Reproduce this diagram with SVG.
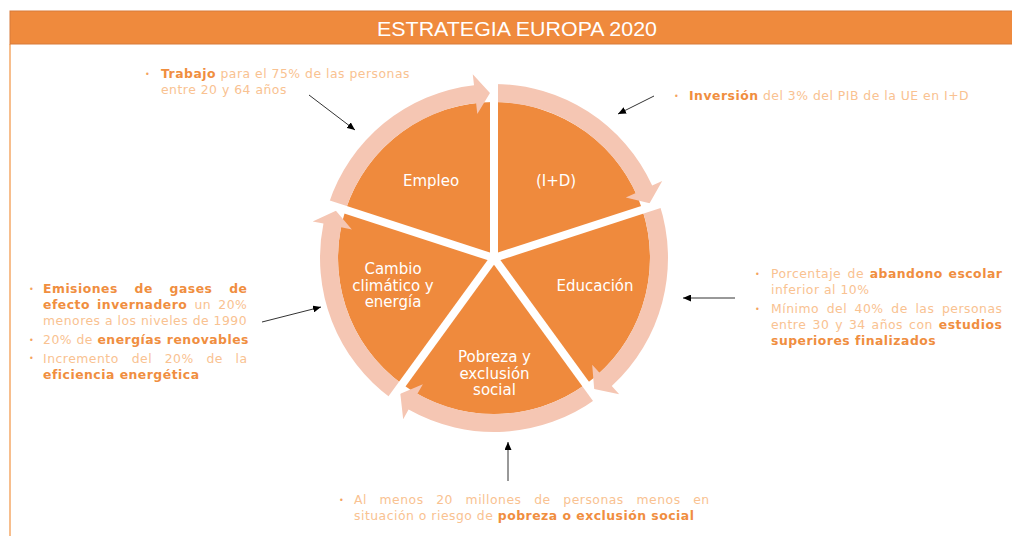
<svg xmlns="http://www.w3.org/2000/svg" xmlns:xlink="http://www.w3.org/1999/xlink" width="1012" height="536" viewBox="0 0 1012 536">
<style>
.wedge{fill:#EF8A3D}
.ring{fill:#F5C6B3}
.lbl{font-family:"DejaVu Sans","Verdana",sans-serif;font-size:15px;fill:#FFFFFF;text-anchor:middle}
.t{font-family:"DejaVu Sans","Verdana",sans-serif;font-size:12.4px;letter-spacing:0.5px;fill:#F9C291}
.b{font-weight:bold;fill:#F08E3F}
.bul{font-size:8px;fill:#F4A460}
.sep{stroke:#FFFFFF;stroke-width:8;fill:none}
.con{stroke:#333333;stroke-width:1;fill:none;marker-end:url(#ah)}
</style>
<defs>
<marker id="ah" markerUnits="userSpaceOnUse" markerWidth="9" markerHeight="7" refX="8" refY="3.5" orient="auto">
<path d="M0,0 L8,3.5 L0,7 Z" fill="#000000"/>
</marker>
<path id="wd" d="M494,258 L494,102 A156,156 0 0 1 642.4,209.8 Z"/>
<path id="ra" d="M494,84 A174,174 0 0 1 652.2,185.6 L662.2,181 L649.6,203.2 L625.8,197.6 L635.8,193.1 A156,156 0 0 0 494,102 Z"/>
</defs>
<rect width="1012" height="536" fill="#FFFFFF"/>
<g id="title">
<line x1="10" y1="44" x2="10" y2="536" stroke="#F5A867" stroke-width="1.5"/>
<rect x="10" y="11" width="1003" height="33" fill="#EF8A3D" stroke="#D77A3A" stroke-width="1"/>
<text x="517" y="35.5" text-anchor="middle" font-family="'Liberation Sans',Arial,sans-serif" font-size="20" fill="#FFFFFF" textLength="280" lengthAdjust="spacingAndGlyphs">ESTRATEGIA EUROPA 2020</text>
</g>
<g id="n-empleo">
<use xlink:href="#wd" class="wedge" transform="rotate(-72 494 258)"/>
<use xlink:href="#ra" class="ring" transform="rotate(-72 494 258)"/>
<text class="lbl" x="431" y="186">Empleo</text>
</g>
<g id="n-id">
<use xlink:href="#wd" class="wedge"/>
<use xlink:href="#ra" class="ring"/>
<text class="lbl" x="556" y="186">(I+D)</text>
</g>
<g id="n-educacion">
<use xlink:href="#wd" class="wedge" transform="rotate(72 494 258)"/>
<use xlink:href="#ra" class="ring" transform="rotate(72 494 258)"/>
<text class="lbl" x="595" y="291">Educación</text>
</g>
<g id="n-pobreza">
<use xlink:href="#wd" class="wedge" transform="rotate(144 494 258)"/>
<use xlink:href="#ra" class="ring" transform="rotate(144 494 258)"/>
<text class="lbl" x="494.5" y="362">Pobreza y</text>
<text class="lbl" x="494.5" y="378.5">exclusión</text>
<text class="lbl" x="494.5" y="395">social</text>
</g>
<g id="n-cambio">
<use xlink:href="#wd" class="wedge" transform="rotate(216 494 258)"/>
<use xlink:href="#ra" class="ring" transform="rotate(216 494 258)"/>
<text class="lbl" x="393" y="274">Cambio</text>
<text class="lbl" x="393" y="290.5">climático y</text>
<text class="lbl" x="393" y="307">energía</text>
</g>
<g id="separators">
<line class="sep" x1="494" y1="258" x2="494" y2="76"/>
<line class="sep" x1="494" y1="258" x2="667.1" y2="201.8"/>
<line class="sep" x1="494" y1="258" x2="601" y2="405.2"/>
<line class="sep" x1="494" y1="258" x2="387" y2="405.2"/>
<line class="sep" x1="494" y1="258" x2="320.9" y2="201.8"/>
<circle cx="494" cy="258" r="5" fill="#FFFFFF"/>
</g>
<g id="n-trabajo">
<text class="t bul" x="145" y="76.5">•</text>
<text class="t" x="161" y="78"><tspan class="b">Trabajo</tspan> para el 75% de las personas</text>
<text class="t" x="161" y="94">entre 20 y 64 años</text>
</g>
<g id="n-inversion">
<text class="t bul" x="674" y="98.5">•</text>
<text class="t" x="689" y="100"><tspan class="b">Inversión</tspan> del 3% del PIB de la UE en I+D</text>
</g>
<g id="n-clima-text">
<text class="t bul" x="29" y="291.5">•</text>
<text class="t b" y="293"><tspan x="43">Emisiones</tspan><tspan x="134.6">de</tspan><tspan x="169.6">gases</tspan><tspan x="229.2">de</tspan></text>
<text class="t" y="309"><tspan class="b" x="43">efecto</tspan><tspan class="b" x="97.1">invernadero</tspan><tspan x="194.5">un</tspan><tspan x="218.3">20%</tspan></text>
<text class="t" x="43" y="325">menores a los niveles de 1990</text>
<text class="t bul" x="29" y="342.5">•</text>
<text class="t" x="43" y="344">20% de <tspan class="b">energías renovables</tspan></text>
<text class="t bul" x="29" y="361">•</text>
<text class="t" y="362.5"><tspan x="43">Incremento</tspan><tspan x="131.7">del</tspan><tspan x="164.7">20%</tspan><tspan x="206.4">de</tspan><tspan x="235.5">la</tspan></text>
<text class="t b" x="43" y="378.5" letter-spacing="0.3">eficiencia energética</text>
</g>
<g id="n-educacion-text">
<text class="t bul" x="755" y="276.5">•</text>
<text class="t" y="278"><tspan x="771">Porcentaje</tspan><tspan x="847.6">de</tspan><tspan class="b" x="869.7">abandono</tspan><tspan class="b" x="948.5">escolar</tspan></text>
<text class="t" x="771" y="293.5">inferior al 10%</text>
<text class="t bul" x="755" y="311.5">•</text>
<text class="t" y="313"><tspan x="771">Mínimo</tspan><tspan x="826.7">del</tspan><tspan x="854.6">40%</tspan><tspan x="891.3">de</tspan><tspan x="915.4">las</tspan><tspan x="942">personas</tspan></text>
<text class="t" y="329"><tspan x="771">entre</tspan><tspan x="812.5">30</tspan><tspan x="835.2">y</tspan><tspan x="848.9">34</tspan><tspan x="871.6">años</tspan><tspan x="909.1">con</tspan><tspan class="b" x="938.8">estudios</tspan></text>
<text class="t b" x="771" y="344.5">superiores finalizados</text>
</g>
<g id="n-pobreza-text">
<text class="t bul" x="339" y="502.5">•</text>
<text class="t" y="504"><tspan x="354">Al</tspan><tspan x="379.5">menos</tspan><tspan x="436.2">20</tspan><tspan x="465.6">millones</tspan><tspan x="534.2">de</tspan><tspan x="563.3">personas</tspan><tspan x="636.5">menos</tspan><tspan x="693.2">en</tspan></text>
<text class="t" x="354" y="519.5">situación o riesgo de <tspan class="b">pobreza o exclusión social</tspan></text>
</g>
<g id="connectors">
<line class="con" x1="309" y1="95" x2="355" y2="130"/>
<line class="con" x1="654" y1="96" x2="618" y2="114"/>
<line class="con" x1="262" y1="322" x2="321" y2="307"/>
<line class="con" x1="735" y1="298" x2="683" y2="298"/>
<line class="con" x1="508" y1="481" x2="508" y2="442"/>
</g>
</svg>
